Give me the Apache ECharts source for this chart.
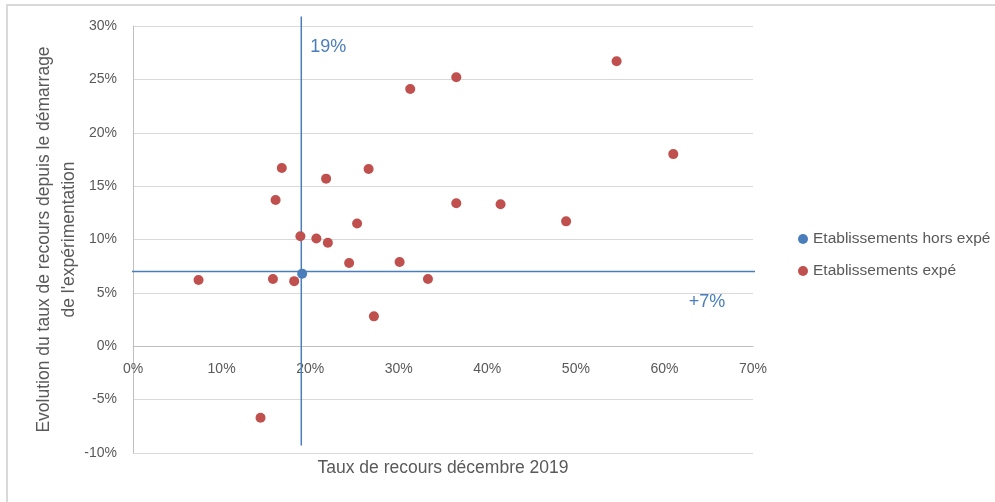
<!DOCTYPE html>
<html>
<head>
<meta charset="utf-8">
<script src="https://cdn.jsdelivr.net/npm/echarts@6/dist/echarts.min.js"></script>
<style>
  html, body { margin: 0; padding: 0; background: #fff; }
  #chart { width: 995px; height: 502px; }
</style>
</head>
<body>
<div id="chart"></div>
<script>
// Etablissements expé : [taux de recours déc. 2019 (%), évolution (%)]
const expeX = [7.4, 14.4, 15.8, 16.1, 16.8, 18.2, 18.9, 20.7, 21.8, 22.0, 24.4, 25.3,
  26.6, 27.2, 30.1, 31.3, 33.3, 36.5, 36.5, 41.5, 48.9, 54.6, 61.0];
const expeY = [6.2, -6.7, 6.3, 13.7, 16.7, 6.1, 10.3, 10.1, 15.7, 9.7, 7.8, 11.5,
  16.6, 2.8, 7.9, 24.1, 6.3, 25.2, 13.4, 13.3, 11.7, 26.7, 18.0];
// Etablissements hors expé
const horsX = [19.1];
const horsY = [6.8];
// lignes de référence (moyennes)
const refX = 19;
const refY = 7;
const vLineY = [30.9, -9.3];
const hLineX = [-0.6, 72.3];

const xTicks = { min: 0, max: 70, interval: 10 };
const yTicks = { min: -10, max: 30, interval: 5 };

const blue = "#4a7ebb";
const red = "#c0504d";
const grey = "#595959";
const font = "Liberation Sans";

const gridTop = 26;
const gridBottom = 49;
const chartH = 502;

const myChart = echarts.init(document.getElementById("chart"));

// ligne de référence avec une étiquette sur un de ses bouts
function refLine(name, points, labelIdx, labelText, labelPos, labelOffset) {
  return {
    name: name,
    type: "line",
    clip: false,
    symbol: "circle",
    symbolSize: 0,
    silent: true,
    itemStyle: { color: blue },
    lineStyle: { color: blue, width: 1.5 },
    data: points.map((p, i) =>
      i === labelIdx
        ? {
            value: p,
            label: {
              show: true,
              position: labelPos,
              offset: labelOffset,
              formatter: labelText,
              color: blue,
              fontSize: 18,
              fontFamily: font,
            },
          }
        : p
    ),
    z: 1,
  };
}

// l'axe des x passe par y = 0 : décalage depuis le bas de la grille
const plotH = chartH - gridTop - gridBottom;
const zeroShift = (plotH * (0 - yTicks.min)) / (yTicks.max - yTicks.min);

const option = {
  animation: false,
  textStyle: { fontFamily: font },
  graphic: [
    {
      type: "line",
      shape: { x1: 6, y1: 5, x2: 995, y2: 5 },
      style: { stroke: "#d9d9d9", lineWidth: 2 },
      silent: true,
    },
    {
      type: "line",
      shape: { x1: 7, y1: 5, x2: 7, y2: 502 },
      style: { stroke: "#d9d9d9", lineWidth: 2 },
      silent: true,
    },
  ],
  grid: { left: 133, right: 242, top: gridTop, bottom: gridBottom, outerBoundsMode: "none", containLabel: false },
  legend: {
    data: ["Etablissements hors expé", "Etablissements expé"],
    orient: "vertical",
    left: 793,
    top: 226,
    itemWidth: 10,
    itemHeight: 10,
    itemGap: 16,
    icon: "circle",
    textStyle: { color: grey, fontSize: 15.5, fontFamily: font },
  },
  xAxis: {
    type: "value",
    min: xTicks.min,
    max: xTicks.max,
    interval: xTicks.interval,
    position: "bottom",
    offset: -zeroShift,
    name: "Taux de recours décembre 2019",
    nameLocation: "middle",
    nameGap: 113,
    nameMoveOverlap: false,
    nameTextStyle: { color: grey, fontSize: 17.5 },
    axisLine: { onZero: false, lineStyle: { color: "#bfbfbf" } },
    axisTick: { show: false },
    splitLine: { show: false },
    axisLabel: { color: grey, fontSize: 14, margin: 16, formatter: "{value}%" },
  },
  yAxis: {
    type: "value",
    min: yTicks.min,
    max: yTicks.max,
    interval: yTicks.interval,
    name: "Evolution du taux de recours depuis le démarrage\nde l'expérimentation",
    nameLocation: "middle",
    nameGap: 51,
    nameMoveOverlap: false,
    nameTextStyle: { color: grey, fontSize: 17.5, lineHeight: 25 },
    axisLine: { show: true, lineStyle: { color: "#bfbfbf" } },
    axisTick: { show: false },
    splitLine: { show: true, lineStyle: { color: "#d9d9d9", width: 1 } },
    axisLabel: { color: grey, fontSize: 14, margin: 16, formatter: "{value}%" },
  },
  series: [
    refLine("ligne verticale", vLineY.map((y) => [refX, y]), 0, refX + "%", "right", [4, 31]),
    refLine("ligne horizontale", hLineX.map((x) => [x, refY]), 1, "+" + refY + "%", "left", [-43, 31]),
    {
      name: "Etablissements hors expé",
      type: "scatter",
      symbolSize: 10,
      itemStyle: { color: blue, opacity: 1 },
      data: horsX.map((x, i) => [x, horsY[i]]),
      z: 3,
    },
    {
      name: "Etablissements expé",
      type: "scatter",
      symbolSize: 10,
      itemStyle: { color: red, opacity: 1 },
      data: expeX.map((x, i) => [x, expeY[i]]),
      z: 3,
    },
  ],
};

myChart.setOption(option);
</script>
</body>
</html>
